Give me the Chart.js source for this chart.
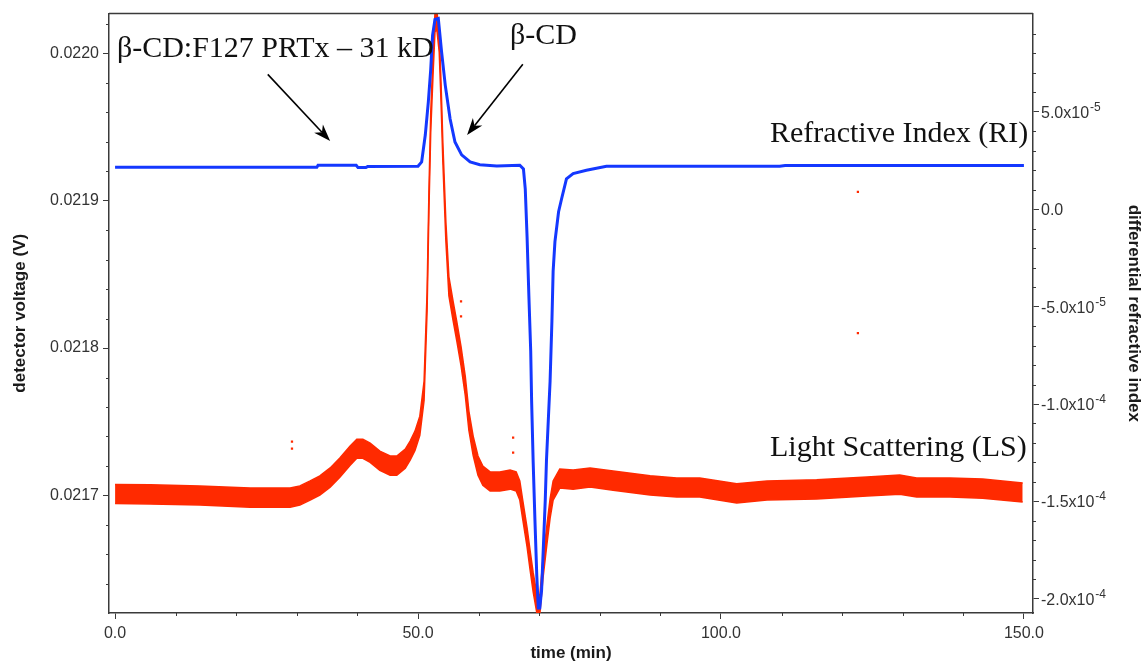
<!DOCTYPE html>
<html>
<head>
<meta charset="utf-8">
<script src="https://cdn.jsdelivr.net/npm/chart.js@4"></script>
<style>
  html, body { margin: 0; padding: 0; background: #fff; }
  canvas { display: block; }
</style>
</head>
<body>
<canvas id="secChart" width="1145" height="672"></canvas>
<script>
// RI trace: differential refractive index vs time (right axis)
const riTime = [0, 33.3, 33.5, 39.8, 40.1, 41.4, 41.7, 50.0, 50.6, 51.2, 51.7, 52.1, 52.4, 52.8, 53.35, 53.9, 54.5, 55.3,
    56.1, 57.2, 58.6, 60.2, 63.0, 66.8, 67.4, 67.7, 68.0, 68.3, 68.6, 68.75, 69.0, 69.3, 69.6, 69.85, 70.1, 70.4, 70.7, 71.0,
    71.2, 71.5, 71.8, 72.1, 72.3, 72.6, 73.2, 73.7, 74.5, 75.6, 77.8, 81.1, 109.7, 110.6, 150.0];
const riValue = [2.15e-5, 2.15e-5, 2.26e-5, 2.26e-5, 2.14e-5, 2.14e-5, 2.20e-5, 2.21e-5, 2.43e-5, 3.81e-5, 5.50e-5, 7.18e-5,
    8.92e-5, 9.74e-5, 9.79e-5, 8.05e-5, 6.36e-5, 4.63e-5, 3.45e-5, 2.79e-5, 2.43e-5, 2.29e-5, 2.22e-5, 2.26e-5, 2.07e-5,
    1.05e-5, -1.41e-5, -4.47e-5, -7.28e-5, -9.84e-5, -1.291e-4, -1.598e-4, -1.879e-4, -2.047e-4, -2.047e-4, -1.955e-4,
    -1.725e-4, -1.495e-4, -1.291e-4, -1.086e-4, -8.82e-5, -5.75e-5, -3.19e-5, -1.66e-5, -1.3e-6, 5.4e-6, 1.56e-5, 1.83e-5,
    2.00e-5, 2.21e-5, 2.21e-5, 2.25e-5, 2.25e-5];

// LS trace: detector voltage vs time (left axis), middle of the noisy band
const lsTime = [0, 5.8, 14.0, 22.3, 28.9, 30.5, 32.2, 33.8, 35.5, 37.1, 38.8, 39.9, 40.9, 42.1, 43.7, 45.4, 46.5, 47.9,
    48.7, 49.5, 50.3, 51.0, 51.5, 51.8, 52.1, 52.5, 52.8, 53.1, 53.5, 53.8, 54.1, 54.6, 55.1, 55.8, 56.4, 57.1, 57.8, 58.4,
    59.1, 59.9, 60.7, 61.9, 63.5, 65.2, 66.2, 66.8, 67.3, 68.0, 68.5, 69.0, 69.6, 70.1, 70.6, 71.3, 71.8, 72.3, 73.4, 75.6,
    78.4, 82.2, 88.3, 92.7, 96.5, 102.6, 107.6, 115.8, 124.1, 129.5, 132.3, 137.8, 143.2, 149.8];
const lsVolt = [0.0217010, 0.0217007, 0.0217000, 0.0216986, 0.0216986, 0.0217000, 0.0217034, 0.0217068, 0.0217122,
    0.0217189, 0.0217270, 0.0217317, 0.0217317, 0.0217290, 0.0217236, 0.0217203, 0.0217203, 0.0217250, 0.0217304,
    0.0217371, 0.0217473, 0.0217709, 0.0218317, 0.0218992, 0.0219532, 0.0219937, 0.0220207, 0.0220227, 0.0220072,
    0.0219735, 0.0219329, 0.0218789, 0.0218418, 0.0218249, 0.0218114, 0.0217945, 0.0217743, 0.0217506, 0.0217338,
    0.0217203, 0.0217135, 0.0217095, 0.0217095, 0.0217108, 0.0217095, 0.0217034, 0.0216899, 0.0216716, 0.0216561,
    0.0216413, 0.0216271, 0.0216257, 0.0216494, 0.0216743, 0.0216912, 0.0217034, 0.0217115, 0.0217108, 0.0217122,
    0.0217101, 0.0217068, 0.0217054, 0.0217054, 0.0217014, 0.0217034, 0.0217041, 0.0217061, 0.0217074, 0.0217054,
    0.0217054, 0.0217047, 0.0217020];
// half height of the LS noise band (V)
const lsSpread = 6.5e-6;

// stray LS points off the band
const lsStrayTime = [29.2, 29.2, 57.1, 57.1, 65.7, 65.7, 122.6, 122.6];
const lsStrayVolt = [0.0217365, 0.0217317, 0.0218317, 0.0218215, 0.0217392, 0.0217290, 0.0219059, 0.0218101];

const timeTicks = [0, 50, 100, 150];
const voltTicks = [0.0217, 0.0218, 0.0219, 0.0220];
const riTicks = [-2.0e-4, -1.5e-4, -1.0e-4, -5.0e-5, 0, 5.0e-5];

// peak labels, placed in (time, voltage)
const noteText = ['β-CD:F127 PRTx – 31 kD', 'β-CD', 'Refractive Index (RI)', 'Light Scattering (LS)'];
const noteTime = [0.3, 65.2, 108.1, 108.1];
const noteVolt = [0.0219971, 0.0220061, 0.0219397, 0.0217270];
const arrowFrom = [[25.2, 0.0219856], [67.3, 0.0219924]];
const arrowTo = [[35.5, 0.0219404], [58.1, 0.0219444]];

const RED = '#ff2a00';
const BLUE = '#1438ff';
const AXIS = '#3a3a3a';
const SANS = '"Liberation Sans", Arial, sans-serif';

Chart.defaults.font.family = SANS;

const riPoints = riTime.map((t, i) => ({ x: t, y: riValue[i] }));
const lsUpper = lsTime.map((t, i) => ({ x: t, y: lsVolt[i] + lsSpread }));
const lsLower = lsTime.map((t, i) => ({ x: t, y: lsVolt[i] - lsSpread }));
const lsStray = lsStrayTime.map((t, i) => ({ x: t, y: lsStrayVolt[i] }));

function drawSci(ctx, v, x, y) {
    ctx.fillStyle = '#333';
    ctx.textAlign = 'left';
    ctx.textBaseline = 'alphabetic';
    ctx.font = '16px ' + SANS;
    if (v === 0) {
        ctx.fillText('0.0', x, y + 6);
        return;
    }
    const e = Math.floor(Math.log10(Math.abs(v)) + 1e-9);
    const m = v / Math.pow(10, e);
    const main = m.toFixed(1) + 'x10';
    ctx.fillText(main, x, y + 6);
    const w = ctx.measureText(main).width;
    ctx.font = '12px ' + SANS;
    ctx.fillText(String(e), x + w + 1, y - 1);
}

function drawArrow(ctx, x0, y0, x1, y1) {
    const a = Math.atan2(y1 - y0, x1 - x0);
    const len = 17, half = 6, notch = 12;
    ctx.strokeStyle = '#000';
    ctx.fillStyle = '#000';
    ctx.lineWidth = 1.6;
    ctx.beginPath();
    ctx.moveTo(x0, y0);
    ctx.lineTo(x1 - Math.cos(a) * notch, y1 - Math.sin(a) * notch);
    ctx.stroke();
    ctx.beginPath();
    ctx.moveTo(x1, y1);
    ctx.lineTo(x1 - Math.cos(a) * len - Math.sin(a) * half, y1 - Math.sin(a) * len + Math.cos(a) * half);
    ctx.lineTo(x1 - Math.cos(a) * notch, y1 - Math.sin(a) * notch);
    ctx.lineTo(x1 - Math.cos(a) * len + Math.sin(a) * half, y1 - Math.sin(a) * len - Math.cos(a) * half);
    ctx.closePath();
    ctx.fill();
}

// minor ticks, top border, right-axis labels and the peak notes
const decorations = {
    id: 'decorations',
    afterDraw(chart) {
        const ctx = chart.ctx;
        const area = chart.chartArea;
        const xs = chart.scales.x;
        const yl = chart.scales.yLS;
        const yr = chart.scales.yRI;
        ctx.save();

        ctx.strokeStyle = AXIS;
        ctx.lineWidth = 1;
        ctx.beginPath();
        for (let v = 0; v <= 150; v += 10) {
            if (v % 50 === 0) continue;
            const px = Math.round(xs.getPixelForValue(v)) + 0.5;
            ctx.moveTo(px, area.bottom);
            ctx.lineTo(px, area.bottom + 3);
        }
        for (let i = -4; i <= 17; i++) {
            if (i % 5 === 0) continue;
            const py = yl.getPixelForValue(0.0217 + i * 2e-5);
            if (py < area.top || py > area.bottom) continue;
            ctx.moveTo(area.left - 3, Math.round(py) + 0.5);
            ctx.lineTo(area.left, Math.round(py) + 0.5);
        }
        for (let k = -21; k <= 10; k++) {
            if (k % 5 === 0) continue;
            const py = yr.getPixelForValue(k * 1e-5);
            if (py < area.top || py > area.bottom) continue;
            ctx.moveTo(area.right, Math.round(py) + 0.5);
            ctx.lineTo(area.right + 3, Math.round(py) + 0.5);
        }
        ctx.stroke();

        ctx.lineWidth = 1.5;
        ctx.beginPath();
        ctx.moveTo(area.left, area.top);
        ctx.lineTo(area.right, area.top);
        ctx.stroke();

        riTicks.forEach(v => drawSci(ctx, v, area.right + 8, yr.getPixelForValue(v)));

        ctx.fillStyle = '#111';
        ctx.font = '30px "Liberation Serif", serif';
        ctx.textAlign = 'left';
        ctx.textBaseline = 'alphabetic';
        noteText.forEach((txt, i) => {
            ctx.fillText(txt, xs.getPixelForValue(noteTime[i]), yl.getPixelForValue(noteVolt[i]));
        });
        arrowFrom.forEach((p, i) => {
            drawArrow(ctx,
                xs.getPixelForValue(p[0]), yl.getPixelForValue(p[1]),
                xs.getPixelForValue(arrowTo[i][0]), yl.getPixelForValue(arrowTo[i][1]));
        });
        ctx.restore();
    }
};

const titleFont = { family: SANS, size: 17, weight: 'bold' };
const tickFont = { family: SANS, size: 16 };

const ctx = document.getElementById('secChart').getContext('2d');
const chart = new Chart(ctx, {
    type: 'line',
    data: {
        datasets: [
            { label: 'RI', data: riPoints, yAxisID: 'yRI', borderColor: BLUE, borderWidth: 3, pointRadius: 0, fill: false, order: 0 },
            { label: 'LS', data: lsUpper, yAxisID: 'yLS', borderColor: RED, backgroundColor: RED, borderWidth: 1.5, pointRadius: 0, fill: '+1', order: 1 },
            { label: 'LS low', data: lsLower, yAxisID: 'yLS', borderColor: RED, borderWidth: 1.5, pointRadius: 0, fill: false, order: 2 },
            { type: 'scatter', label: 'LS stray', data: lsStray, yAxisID: 'yLS', backgroundColor: RED, borderWidth: 0, pointStyle: 'rect', pointRadius: 1.6, order: 3 }
        ]
    },
    options: {
        responsive: false,
        animation: false,
        devicePixelRatio: 1,
        layout: { padding: { top: 11, left: 0, right: 0, bottom: 0 } },
        elements: { line: { tension: 0 } },
        plugins: { legend: { display: false }, tooltip: { enabled: false } },
        scales: {
            x: {
                type: 'linear',
                min: -1,
                max: 151.5,
                afterBuildTicks: s => { s.ticks = timeTicks.map(v => ({ value: v })); },
                afterFit: s => { s.height = 59; },
                ticks: { callback: v => Number(v).toFixed(1), font: tickFont, color: '#333', padding: 5, maxRotation: 0, autoSkip: false },
                grid: { drawOnChartArea: false, tickLength: 6, color: AXIS, tickWidth: 1 },
                border: { color: AXIS, width: 1.5 },
                title: { display: true, text: 'time (min)', font: titleFont, color: '#1a1a1a', padding: { top: 0, bottom: 8 } }
            },
            yLS: {
                type: 'linear',
                position: 'left',
                min: 0.0216203,
                max: 0.0220268,
                afterBuildTicks: s => { s.ticks = voltTicks.map(v => ({ value: v })); },
                afterFit: s => { s.width = 109; },
                ticks: { callback: v => Number(v).toFixed(4), font: tickFont, color: '#333', padding: 4 },
                grid: { drawOnChartArea: false, tickLength: 6, color: AXIS, tickWidth: 1 },
                border: { color: AXIS, width: 1.5 },
                title: { display: true, text: 'detector voltage (V)', font: titleFont, color: '#1a1a1a', padding: { top: 10, bottom: 0 } }
            },
            yRI: {
                type: 'linear',
                position: 'right',
                min: -2.073e-4,
                max: 1.0045e-4,
                afterBuildTicks: s => { s.ticks = riTicks.map(v => ({ value: v })); },
                afterFit: s => { s.width = 112; },
                ticks: { display: false },
                grid: { drawOnChartArea: false, tickLength: 6, color: AXIS, tickWidth: 1 },
                border: { color: AXIS, width: 1.5 },
                title: { display: true, text: 'differential refractive index', font: titleFont, color: '#1a1a1a', padding: { top: 1, bottom: 0 } }
            }
        }
    },
    plugins: [decorations]
});
</script>
</body>
</html>
